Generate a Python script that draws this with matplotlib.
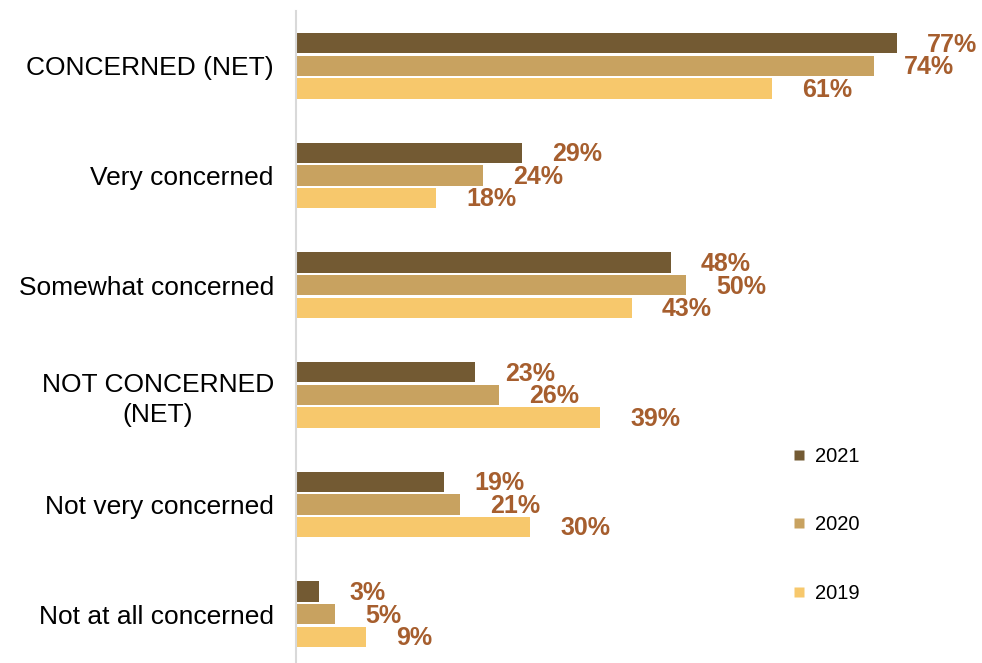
import matplotlib.pyplot as plt
from matplotlib.lines import Line2D

plt.rcParams['font.family'] = ['Liberation Sans', 'DejaVu Sans']

categories = ["CONCERNED (NET)", "Very concerned", "Somewhat concerned",
              "NOT CONCERNED\n(NET)", "Not very concerned", "Not at all concerned"]
years = ["2021", "2020", "2019"]
vals_2021 = [77, 29, 48, 23, 19, 3]
vals_2020 = [74, 24, 50, 26, 21, 5]
vals_2019 = [61, 18, 43, 39, 30, 9]
series = [vals_2021, vals_2020, vals_2019]
colors = ["#735A33", "#C8A260", "#F7C86C"]
label_color = "#A65E2E"

fig = plt.figure(figsize=(9.82, 6.63), dpi=100)
ax = fig.add_axes([296 / 982, -6 / 663, (982 - 296) / 982, 658 / 663])

bar_h = 0.187
step = 0.206
for i, (vals, c) in enumerate(zip(series, colors)):
    ys = [g + (i - 1) * step for g in range(len(categories))]
    ax.barh(ys, vals, height=bar_h, color=c, edgecolor="none")
    for y, v in zip(ys, vals):
        ax.annotate(f"{v}%", (v, y), xytext=(21.5, -1), textcoords="offset points",
                    ha="left", va="center", fontsize=18, fontweight="bold",
                    color=label_color)

ax.set_xlim(0, 87.9)
ax.set_ylim(5.5, -0.5)
ax.set_yticks(range(len(categories)))
ax.set_yticklabels(categories, fontsize=19, multialignment="center", linespacing=1.3)
ax.tick_params(axis="y", length=0, pad=16)
ax.set_xticks([])
for s in ["top", "right", "bottom"]:
    ax.spines[s].set_visible(False)
ax.spines["left"].set_color("#D9D9D9")
ax.spines["left"].set_linewidth(1.5)

# legend sits low on the right, one entry per year
handles = [Line2D([], [], marker="s", linestyle="none", markersize=6.5,
                  markerfacecolor=c, markeredgecolor="none") for c in colors]
ax.legend(handles, years, loc="upper left", bbox_to_anchor=(783 / 982, (663 - 437) / 663),
          bbox_transform=fig.transFigure, frameon=False, fontsize=14.5,
          handlelength=0.6, handletextpad=0.5, labelspacing=2.45, borderpad=0)

fig.savefig("out.png", dpi=100)
